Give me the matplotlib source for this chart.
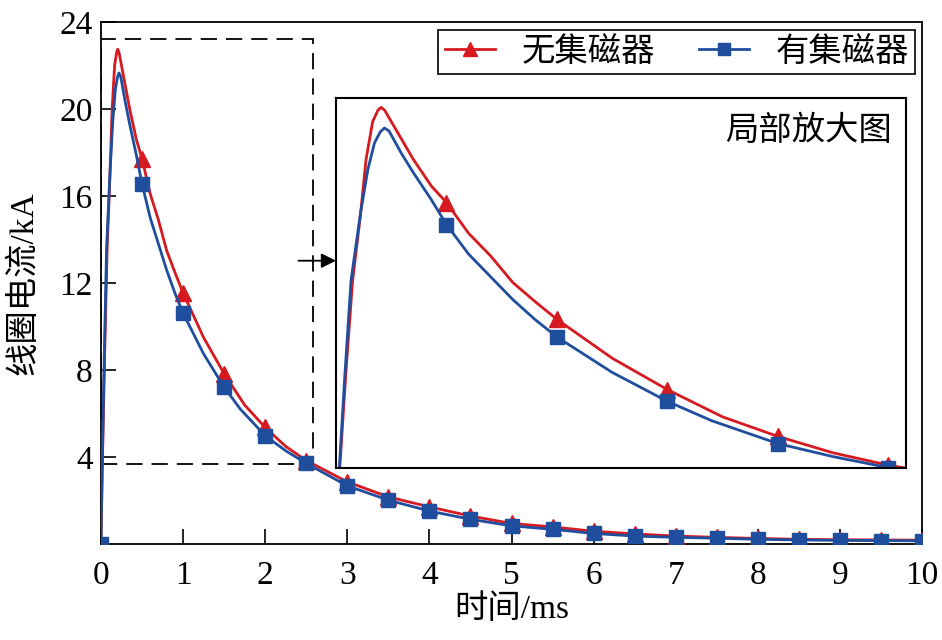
import numpy as np
import matplotlib
matplotlib.use('Agg')
import matplotlib.pyplot as plt
from matplotlib.patches import Rectangle

plt.rcParams['font.family'] = ['Liberation Serif', 'Noto Sans CJK SC']
plt.rcParams['axes.unicode_minus'] = False

# coil current, no concentrator (red) and with concentrator (blue), kA vs ms
t_red = [0, 0.017, 0.045, 0.075, 0.11, 0.136, 0.166, 0.19, 0.204, 0.22, 0.25, 0.28, 0.35, 0.431,
         0.5, 0.6, 0.7, 0.8, 0.9, 1.0, 1.25, 1.5, 1.75, 2.0, 2.25, 2.5, 3.0, 3.5, 4.0, 4.5,
         5.0, 5.5, 6.0, 6.5, 7.0, 7.5, 8.0, 8.5, 9.0, 9.5, 10.0]
i_red = [0, 3.7, 8.8, 13.6, 17.0, 20.0, 22.0, 22.6, 22.75, 22.6, 22.0, 21.4, 20.0, 18.6,
         17.72, 16.1, 14.9, 13.5, 12.5, 11.55, 9.5, 7.84, 6.4, 5.37, 4.5, 3.85, 2.87, 2.18, 1.72, 1.30,
         0.96, 0.80, 0.60, 0.48, 0.38, 0.32, 0.27, 0.23, 0.21, 0.20, 0.19]

t_blue = [0, 0.015, 0.04, 0.068, 0.11, 0.144, 0.174, 0.2, 0.219, 0.24, 0.295, 0.35, 0.431,
          0.5, 0.6, 0.7, 0.8, 0.9, 1.0, 1.25, 1.5, 1.7, 2.0, 2.25, 2.5, 3.0, 3.5, 4.0, 4.5,
          5.0, 5.5, 6.0, 6.5, 7.0, 7.5, 8.0, 8.5, 9.0, 9.5, 10.0]
i_blue = [0, 3.7, 8.6, 13.6, 17.1, 19.46, 20.87, 21.45, 21.66, 21.5, 20.34, 19.3, 17.88,
          16.56, 15.0, 13.8, 12.6, 11.55, 10.62, 8.75, 7.22, 6.2, 4.99, 4.3, 3.72, 2.69, 2.03, 1.53, 1.15,
          0.85, 0.69, 0.50, 0.38, 0.32, 0.28, 0.23, 0.20, 0.18, 0.17, 0.16]

t_marks = [0, 0.5, 1.0, 1.5, 2.0, 2.5, 3.0, 3.5, 4.0, 4.5, 5.0, 5.5, 6.0, 6.5, 7.0, 7.5, 8.0,
           8.5, 9.0, 9.5, 10.0]

labels = ['无集磁器', '有集磁器']
xticks = [0, 1, 2, 3, 4, 5, 6, 7, 8, 9, 10]
yticks = [4, 8, 12, 16, 20, 24]

red = '#d71920'
blue = '#1f4e9e'

# zoom window
zx0, zx1, zy0, zy1 = 0, 2.58, 3.70, 23.24

fs = 24

def marks(t):
    return list(np.where(np.isin(np.round(t, 3), t_marks))[0])

fig = plt.figure(figsize=(9.42, 6.4), dpi=100)
ax = fig.add_axes([0.1072, 0.1495, 0.8716, 0.8161])

ax.plot(t_red, i_red, color=red, lw=2, marker='^', ms=11, markevery=marks(t_red),
        label=labels[0], zorder=3)
ax.plot(t_blue, i_blue, color=blue, lw=2, marker='s', ms=10, markevery=marks(t_blue),
        label=labels[1], zorder=4)

ax.set_xlim(0, 10)
ax.set_ylim(0, 24)
ax.set_xticks(xticks)
ax.set_yticks(yticks)
ax.tick_params(direction='in', length=11, width=1.2, labelsize=fs, top=False, right=False)
ax.tick_params(axis='x', pad=12)
ax.tick_params(axis='y', pad=6)
for s in ax.spines.values():
    s.set_linewidth(1.3)
ax.set_xlabel('时间/ms', fontsize=fs, labelpad=2)
ax.set_ylabel('线圈电流/kA', fontsize=fs, labelpad=14)

leg = ax.legend(loc='upper right', bbox_to_anchor=(0.992, 0.985), borderaxespad=0,
                ncol=2, fontsize=fs, fancybox=False, edgecolor='black', framealpha=1,
                handlelength=1.5, handletextpad=0.8, columnspacing=1.3, markerscale=0.9,
                borderpad=0.2)
leg.get_frame().set_linewidth(1.2)

ax.add_patch(Rectangle((zx0, zy0), zx1 - zx0, zy1 - zy0, fill=False, ec='black',
                       lw=1.3, ls=(0, (9, 5)), zorder=2))

ax.annotate('', xy=(0.2862, 0.543), xytext=(0.2405, 0.543), xycoords='axes fraction',
            arrowprops=dict(arrowstyle='-|>', color='black', lw=1.3, mutation_scale=22,
                            shrinkA=0, shrinkB=0))

axin = fig.add_axes([0.3567, 0.26875, 0.6051, 0.578])
axin.plot(t_red, i_red, color=red, lw=2, marker='^', ms=11, markevery=marks(t_red))
axin.plot(t_blue, i_blue, color=blue, lw=2, marker='s', ms=10, markevery=marks(t_blue))
axin.set_xlim(zx0, zx1)
axin.set_ylim(zy0, zy1)
axin.set_xticks([])
axin.set_yticks([])
for s in axin.spines.values():
    s.set_linewidth(1.5)
axin.text(0.975, 0.91, '局部放大图', transform=axin.transAxes, ha='right', va='center',
          fontsize=fs)

fig.savefig('out.png', dpi=100)
